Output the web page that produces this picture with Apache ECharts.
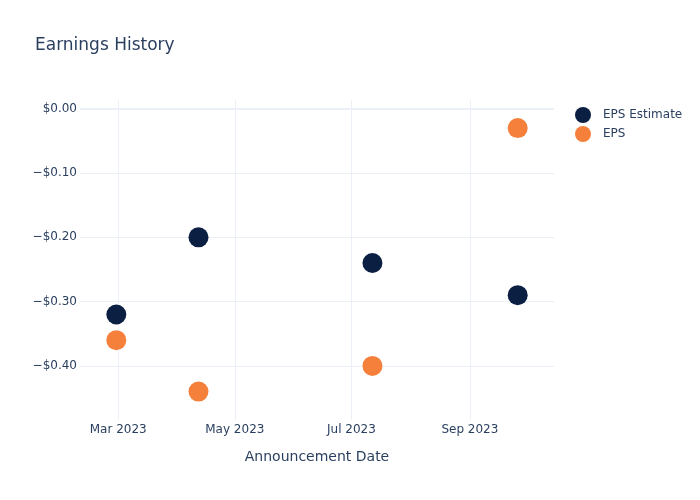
<!DOCTYPE html>
<html>
<head>
<meta charset="utf-8">
<script src="https://cdn.jsdelivr.net/npm/echarts@6/dist/echarts.min.js"></script>
<style>html,body{margin:0;padding:0;background:#fff}#c{width:700px;height:500px}</style>
</head>
<body>
<div id="c"></div>
<script>
const dates = ['2023-02-28', '2023-04-12', '2023-07-12', '2023-09-26'];
const epsEstimate = [-0.32, -0.20, -0.24, -0.29];
const eps = [-0.36, -0.44, -0.40, -0.03];
const xTicks = ['2023-03-01', '2023-05-01', '2023-07-01', '2023-09-01'];
const xTickLabels = ['Mar 2023', 'May 2023', 'Jul 2023', 'Sep 2023'];
const yTicks = [0, -0.1, -0.2, -0.3, -0.4];
const yTickLabels = ['$0.00', '\u2212$0.10', '\u2212$0.20', '\u2212$0.30', '\u2212$0.40'];

const FONT = 'DejaVu Sans';
const TXT = '#2a3f5f';
const GRID = '#EBF0F8';

const chart = echarts.init(document.getElementById('c'), null, {renderer: 'canvas'});

const xLines = xTicks.map((d, i) => ({
  xAxis: d,
  label: {formatter: xTickLabels[i]}
}));
const yLines = yTicks.map((v, i) => ({
  yAxis: v,
  lineStyle: {width: v === 0 ? 2 : 1, color: GRID, type: 'solid'},
  label: {formatter: yTickLabels[i]}
}));

chart.setOption({
  animation: false,
  backgroundColor: '#fff',
  textStyle: {fontFamily: FONT},
  title: {
    text: 'Earnings History',
    left: 30, top: 32,
    textStyle: {fontFamily: FONT, fontSize: 17, fontWeight: 'normal', color: TXT}
  },
  legend: {
    data: ['EPS Estimate', 'EPS'],
    orient: 'vertical',
    left: 570, top: 102,
    icon: 'circle',
    itemWidth: 26, itemHeight: 16, itemGap: 3,
    textStyle: {fontFamily: FONT, fontSize: 12, color: TXT, padding: [0, 0, 0, 2]}
  },
  grid: {left: 80, right: 146, top: 100, bottom: 80, containLabel: false},
  xAxis: {
    type: 'time',
    min: '2023-02-09', max: '2023-10-15',
    name: 'Announcement Date',
    nameLocation: 'middle',
    nameGap: 30,
    nameTextStyle: {fontFamily: FONT, fontSize: 14, color: TXT},
    axisLine: {show: false}, axisTick: {show: false},
    axisLabel: {show: false}, splitLine: {show: false}
  },
  yAxis: {
    type: 'value',
    min: -0.4842, max: 0.0137,
    axisLine: {show: false}, axisTick: {show: false},
    axisLabel: {show: false}, splitLine: {show: false}
  },
  series: [
    {
      name: 'gridX',
      type: 'line',
      data: [],
      z: 0,
      silent: true,
      markLine: {
        z: 0,
        silent: true,
        symbol: ['none', 'none'],
        lineStyle: {color: GRID, width: 1, type: 'solid'},
        label: {position: 'start', distance: 4, fontFamily: FONT, fontSize: 12, color: TXT},
        data: xLines
      }
    },
    {
      name: 'gridY',
      type: 'line',
      data: [],
      z: 0,
      silent: true,
      markLine: {
        z: 0,
        silent: true,
        symbol: ['none', 'none'],
        lineStyle: {color: GRID, width: 1, type: 'solid'},
        label: {position: 'start', distance: 3, fontFamily: FONT, fontSize: 12, color: TXT},
        data: yLines
      }
    },
    {
      name: 'EPS Estimate',
      type: 'scatter',
      symbolSize: 20,
      z: 10,
      itemStyle: {color: '#0B1F43', opacity: 1},
      data: dates.map((d, i) => [d, epsEstimate[i]])
    },
    {
      name: 'EPS',
      type: 'scatter',
      symbolSize: 20,
      z: 10,
      itemStyle: {color: '#F5803B', opacity: 1},
      data: dates.map((d, i) => [d, eps[i]])
    }
  ]
});
</script>
</body>
</html>
